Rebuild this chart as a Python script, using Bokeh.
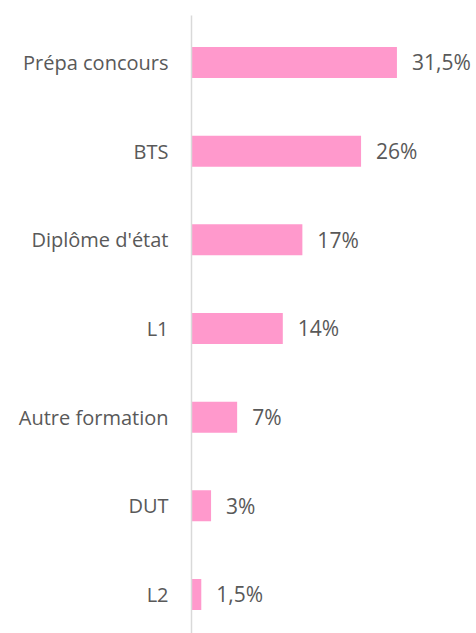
from bokeh.plotting import figure
from bokeh.models import ColumnDataSource, Range1d, FixedTicker
from bokeh.core.properties import value
from bokeh.embed import file_html
from bokeh.resources import INLINE

categories = ["Prépa concours", "BTS", "Diplôme d'état", "L1", "Autre formation", "DUT", "L2"]
values = [31.5, 26, 17, 14, 7, 3, 1.5]

n = len(categories)
ypos = [n - 1 - i for i in range(n)]

def fmt(v):
    s = ("%g" % v).replace(".", ",")
    return s + "%"

labels = [fmt(v) for v in values]

src = ColumnDataSource(dict(y=ypos, v=values, lab=labels))

FONT = "Open Sans"
p = figure(width=476, height=633, output_backend="svg", toolbar_location=None,
           x_range=Range1d(0, 43.7), y_range=Range1d(-0.44, 6.53),
           min_border_left=191, min_border_right=0, min_border_top=15, min_border_bottom=0)
p.outline_line_color = None
p.xgrid.visible = False
p.ygrid.visible = False
p.xaxis.visible = False

p.hbar(y="y", right="v", left=0, height=0.35, source=src, color="#FF99CC", line_color=None)
p.text(x="v", y="y", text="lab", source=src, x_offset=15, text_baseline="middle",
       text_align="left", text_font=value(FONT), text_font_size="21px", text_color="#595959")

ax = p.yaxis[0]
ax.ticker = FixedTicker(ticks=ypos)
ax.major_label_overrides = {y: c for y, c in zip(ypos, categories)}
ax.major_tick_line_color = None
ax.minor_tick_line_color = None
ax.axis_line_color = "#D9D9D9"
ax.axis_line_width = 1.5
ax.major_label_standoff = 17
ax.major_label_text_font = FONT
ax.major_label_text_font_size = "20px"
ax.major_label_text_color = "#595959"

open("out.html", "w").write(file_html(p, INLINE))
